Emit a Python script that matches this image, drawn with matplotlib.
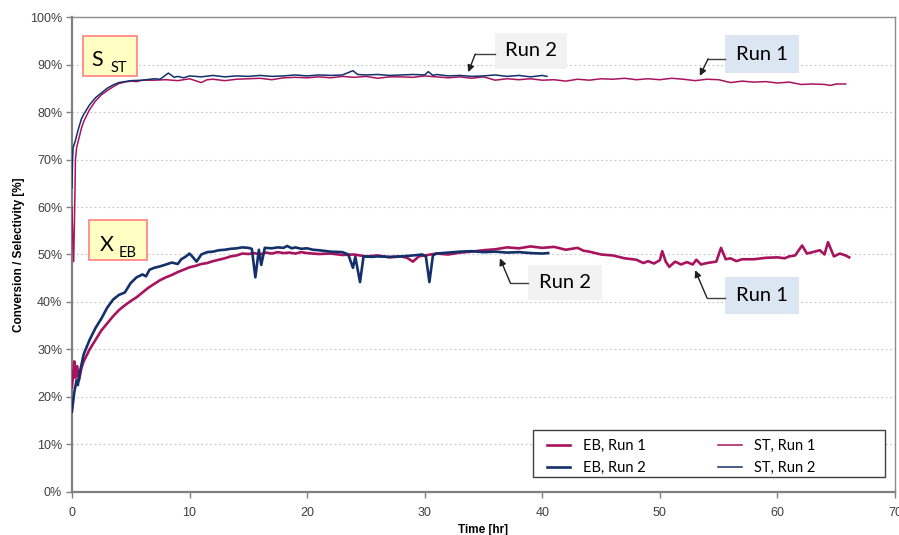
# 필요 라이브러리 임포트
import matplotlib
matplotlib.use('Agg')
import matplotlib.pyplot as plt
from matplotlib.patches import Rectangle
from matplotlib.ticker import PercentFormatter

# EB conversion, Run 1 (time [hr], %)
eb1_t = [0.0, 0.1, 0.2, 0.3, 0.45, 0.6, 0.8, 1.0, 1.5, 2.0, 2.5, 3.0, 3.5, 4.0, 4.5, 5.0, 5.5, 6.0,
         6.5, 7.0, 7.5, 8.0, 8.5, 9.0, 9.5, 10.0, 10.5, 11.0, 11.5, 12.0, 12.5, 13.0, 13.5, 14.0,
         14.5, 15.0, 15.5, 16.0, 16.5, 17.0, 17.5, 18.0, 18.5, 19.0, 19.5, 20.0, 21.0, 22.0, 23.0,
         24.0, 25.0, 26.0, 27.0, 28.0, 28.5, 29.0, 29.5, 30.0, 31.0, 32.0, 33.0, 34.0, 35.0, 36.0,
         37.0, 38.0, 39.0, 40.0, 41.0, 42.0, 43.0, 43.5, 44.0, 45.0, 46.0, 47.0, 48.0, 48.6, 49.0,
         49.5, 50.0, 50.2, 50.5, 50.8, 51.3, 51.8, 52.3, 52.8, 53.1, 53.5, 54.0, 54.8, 55.2, 55.6,
         56.0, 56.5, 57.0, 58.0, 59.0, 60.0, 60.6, 61.0, 61.5, 62.1, 62.5, 63.0, 63.6, 64.0, 64.3,
         64.8, 65.3, 65.8, 66.1]
eb1_v = [22.0, 24.5, 27.5, 24.0, 26.5, 23.5, 26.0, 27.5, 30.0, 32.0, 34.0, 35.5, 37.0, 38.3, 39.3,
         40.2, 41.0, 42.0, 43.0, 43.8, 44.6, 45.2, 45.7, 46.3, 46.8, 47.3, 47.6, 48.0, 48.2, 48.6,
         48.9, 49.2, 49.6, 49.8, 50.2, 50.1, 50.3, 50.0, 50.4, 50.2, 50.5, 50.3, 50.4, 50.2, 50.5,
         50.3, 50.1, 50.2, 49.9, 50.0, 49.6, 49.8, 49.4, 49.6, 49.3, 48.5, 49.6, 49.8, 50.2, 50.0,
         50.4, 50.6, 50.9, 51.1, 51.5, 51.3, 51.7, 51.4, 51.6, 51.0, 51.4, 50.8, 50.6, 50.0, 49.8,
         49.2, 48.9, 48.2, 48.6, 48.1, 48.8, 50.7, 48.5, 47.4, 48.5, 47.9, 48.4, 47.9, 48.9, 47.9,
         48.2, 48.5, 51.4, 49.0, 49.2, 48.6, 49.0, 49.0, 49.3, 49.4, 49.2, 49.6, 49.8, 51.9, 50.2,
         50.5, 50.9, 50.0, 52.6, 49.6, 50.2, 49.8, 49.4]

# EB conversion, Run 2
eb2_t = [0.0, 0.2, 0.4, 0.5, 0.7, 1.0, 1.5, 2.0, 2.5, 3.0, 3.5, 4.0, 4.5, 5.0, 5.5, 6.0, 6.3, 6.6,
         7.0, 7.5, 8.0, 8.5, 9.0, 9.3, 9.7, 10.0, 10.3, 10.6, 11.0, 11.5, 12.0, 12.5, 13.0, 13.5,
         14.0, 14.5, 15.0, 15.3, 15.6, 15.9, 16.1, 16.4, 17.0, 17.5, 18.0, 18.3, 18.7, 19.0, 19.5,
         20.0, 20.5, 21.0, 22.0, 23.0, 23.5, 23.9, 24.1, 24.5, 24.8, 25.5, 26.0, 27.0, 28.0, 29.0,
         29.8, 30.1, 30.4, 30.7, 31.0, 32.0, 33.0, 34.0, 35.0, 36.0, 37.0, 38.0, 39.0, 40.0, 40.5]
eb2_v = [16.9, 21.0, 23.5, 22.5, 25.5, 29.0, 32.0, 34.5, 36.5, 38.8, 40.5, 41.5, 42.0, 44.0, 45.2,
         45.8, 45.4, 46.8, 47.2, 47.5, 47.9, 48.3, 48.0, 49.0, 49.6, 50.2, 49.4, 48.5, 50.0, 50.5,
         50.6, 50.9, 51.0, 51.2, 51.3, 51.5, 51.4, 51.2, 45.2, 51.0, 47.8, 51.4, 51.3, 51.5, 51.4,
         51.8, 51.3, 51.5, 51.2, 51.3, 51.0, 50.9, 50.6, 50.5, 50.0, 47.2, 49.5, 44.2, 49.6, 49.5,
         49.6, 49.5, 49.6, 49.8, 50.0, 49.6, 44.2, 49.8, 50.2, 50.4, 50.6, 50.7, 50.5, 50.6, 50.4,
         50.5, 50.3, 50.2, 50.3]

# ST selectivity, Run 1
st1_t = [0.0, 0.05, 0.15, 0.25, 0.3, 0.4, 0.6, 0.8, 1.0, 1.5, 2.0, 2.5, 3.0, 3.5, 4.0, 4.5, 5.0,
         5.5, 6.0, 7.0, 8.0, 9.0, 10.0, 11.0, 11.5, 12.0, 13.0, 14.0, 15.0, 16.0, 17.0, 18.0, 19.0,
         20.0, 21.0, 22.0, 23.0, 24.0, 25.0, 26.0, 27.0, 28.0, 29.0, 30.0, 31.0, 32.0, 33.0, 34.0,
         35.0, 36.0, 37.0, 38.0, 39.0, 40.0, 41.0, 42.0, 43.0, 44.0, 45.0, 46.0, 47.0, 48.0, 49.0,
         50.0, 51.0, 52.0, 53.0, 54.0, 55.0, 56.0, 57.0, 58.0, 59.0, 60.0, 61.0, 62.0, 63.0, 64.0,
         64.5, 65.0, 65.8]
st1_v = [60.0, 55.0, 48.5, 62.0, 70.0, 72.5, 74.5, 76.5, 78.0, 80.5, 82.3, 83.6, 84.5, 85.3, 86.0,
         86.3, 86.5, 86.4, 86.7, 86.7, 86.8, 86.6, 87.0, 86.2, 86.8, 86.9, 86.6, 86.9, 87.0, 87.1,
         86.8, 87.2, 87.3, 87.2, 87.4, 87.2, 87.5, 87.3, 87.5, 87.1, 87.4, 87.4, 87.3, 87.6, 87.4,
         87.2, 87.4, 87.1, 87.4, 86.7, 87.0, 86.8, 87.0, 86.7, 86.8, 86.5, 86.9, 86.7, 87.0, 86.9,
         87.1, 86.8, 87.0, 86.8, 87.1, 86.9, 86.6, 86.9, 86.8, 86.2, 86.5, 86.3, 86.4, 86.1, 86.3,
         85.8, 85.9, 85.8, 85.6, 85.9, 85.9]

# ST selectivity, Run 2
st2_t = [0.0, 0.05, 0.1, 0.3, 0.5, 0.8, 1.0, 1.5, 2.0, 2.5, 3.0, 3.5, 4.0, 4.5, 5.0, 6.0, 7.0, 7.5,
         8.2, 8.7, 9.0, 9.5, 10.0, 11.0, 12.0, 13.0, 14.0, 15.0, 16.0, 17.0, 18.0, 19.0, 20.0, 21.0,
         22.0, 23.0, 23.9, 24.3, 25.0, 26.0, 27.0, 28.0, 29.0, 30.0, 30.3, 30.7, 31.0, 32.0, 33.0,
         34.0, 35.0, 36.0, 37.0, 38.0, 39.0, 40.0, 40.4]
st2_v = [64.0, 70.0, 72.5, 74.0, 76.0, 78.5, 79.5, 81.5, 83.0, 84.0, 85.0, 85.7, 86.2, 86.4, 86.6,
         86.7, 87.0, 86.9, 88.2, 87.3, 87.5, 87.2, 87.6, 87.4, 87.7, 87.4, 87.6, 87.5, 87.7, 87.5,
         87.6, 87.8, 87.6, 87.8, 87.7, 87.8, 88.7, 87.9, 87.8, 87.9, 87.7, 87.8, 87.9, 87.8, 88.5,
         87.7, 87.9, 87.6, 87.7, 87.5, 87.6, 87.8, 87.5, 87.7, 87.4, 87.7, 87.5]

legend_labels = ['EB, Run 1', 'EB, Run 2', 'ST, Run 1', 'ST, Run 2']
x_ticks = [0, 10, 20, 30, 40, 50, 60, 70]
y_ticks = [0, 10, 20, 30, 40, 50, 60, 70, 80, 90, 100]

c_run1 = '#A8135E'   # 자홍색 (Run 1)
c_run2 = '#13306B'   # 남색 (Run 2)
label_font = ['Lato', 'DejaVu Sans']
axis_font = ['Liberation Sans', 'DejaVu Sans']

fig = plt.figure(figsize=(8.99, 5.35), dpi=100)
ax = fig.add_axes([0.080, 0.0804, 0.9156, 0.8878])

# 선 그리기
l_eb1, = ax.plot(eb1_t, eb1_v, color=c_run1, lw=1.9, zorder=3)
l_st1, = ax.plot(st1_t, st1_v, color=c_run1, lw=1.1, zorder=3)
l_eb2, = ax.plot(eb2_t, eb2_v, color=c_run2, lw=1.9, zorder=4)
l_st2, = ax.plot(st2_t, st2_v, color=c_run2, lw=1.1, zorder=4)

# 축 설정
ax.set_xlim(0, 70)
ax.set_ylim(0, 100)
ax.set_xticks(x_ticks)
ax.set_yticks(y_ticks)
ax.yaxis.set_major_formatter(PercentFormatter(decimals=0))
for lab in ax.get_xticklabels() + ax.get_yticklabels():
    lab.set_fontfamily(axis_font)
    lab.set_fontsize(9)
    lab.set_color('#404040')
ax.tick_params(direction='out', length=4, width=1, color='#808080', pad=3)
ax.tick_params(axis='x', pad=7)
for s in ['left', 'bottom']:
    ax.spines[s].set_color('#808080')
    ax.spines[s].set_linewidth(1.6)
for s in ['top', 'right']:
    ax.spines[s].set_color('#8c8c8c')
    ax.spines[s].set_linewidth(1.0)

# 점선 격자 (10% 간격)
for y in y_ticks[1:-1]:
    ax.axhline(y, color='#c4c4c4', lw=0.8, ls=(0, (1.5, 2.5)), zorder=1)

# 축 제목 (그림 좌표로 직접 배치)
fig.text(0.537, 0.0093, 'Time [hr]', fontsize=8.5, fontweight='bold', family=axis_font,
         ha='center', va='center')
fig.text(0.021, 0.524, 'Conversion / Selectivity [%]', fontsize=8.5, fontweight='bold',
         family=axis_font, ha='center', va='center', rotation=90)

# 범례 (테두리는 직접 그림)
leg = ax.legend([l_eb1, l_eb2, l_st1, l_st2], legend_labels, ncol=2,
                loc='upper left', bbox_to_anchor=(0.5645, 0.1335),
                prop={'family': label_font, 'size': 10.5}, handlelength=1.6,
                handletextpad=0.85, columnspacing=5.0, labelspacing=0.55,
                borderpad=0.2, frameon=False)
ax.add_patch(Rectangle((0.560, 0.0316), 0.428, 0.0989, transform=ax.transAxes,
                       facecolor='white', edgecolor='#404040', lw=1.0, zorder=4.5))
leg.set_zorder(6)

# S_ST / X_EB 라벨 박스
def sub_box(x0, y0, x1, y1, main, sub, xm, ym, xs, ys):
    ax.add_patch(Rectangle((x0, y0), x1 - x0, y1 - y0, facecolor='#FFFFC4',
                           edgecolor='#FF7F7F', lw=1.2, zorder=5))
    ax.text(xm, ym, main, fontsize=15.5, family=label_font, va='baseline', zorder=6)
    ax.text(xs, ys, sub, fontsize=10.5, family=label_font, va='baseline', zorder=6)

sub_box(0.94, 87.6, 5.53, 96.0, 'S', 'ST', 1.65, 89.6, 3.3, 88.5)
sub_box(1.45, 48.8, 6.38, 57.3, 'X', 'EB', 2.4, 50.7, 3.95, 49.4)

# Run 라벨과 화살표
def run_label(x0, y0, x1, y1, text, face, elbow, tip):
    ax.add_patch(Rectangle((x0, y0), x1 - x0, y1 - y0, facecolor=face,
                           edgecolor='none', zorder=5))
    ax.text((x0 + x1) / 2, (y0 + y1) / 2, text, fontsize=14.5, family=label_font,
            ha='center', va='center', zorder=6)
    ax.plot([x0, elbow[0]], [elbow[1], elbow[1]], color='#404040', lw=1.0, zorder=5)
    ax.annotate('', xy=tip, xytext=elbow, zorder=5,
                arrowprops=dict(arrowstyle='-|>', color='#202020', lw=1.0,
                                mutation_scale=10, shrinkA=0, shrinkB=0))

run_label(36.0, 89.1, 42.1, 96.6, 'Run 2', '#F2F2F2', (34.3, 92.2), (33.7, 88.4))
run_label(55.5, 88.2, 61.8, 96.2, 'Run 1', '#DCE6F2', (54.1, 91.2), (53.4, 87.6))
run_label(38.8, 40.4, 45.1, 47.8, 'Run 2', '#F2F2F2', (37.3, 43.9), (36.4, 49.2))
run_label(55.5, 37.5, 61.8, 45.3, 'Run 1', '#DCE6F2', (54.0, 40.9), (53.0, 46.7))

plt.savefig('out.png', dpi=100)
